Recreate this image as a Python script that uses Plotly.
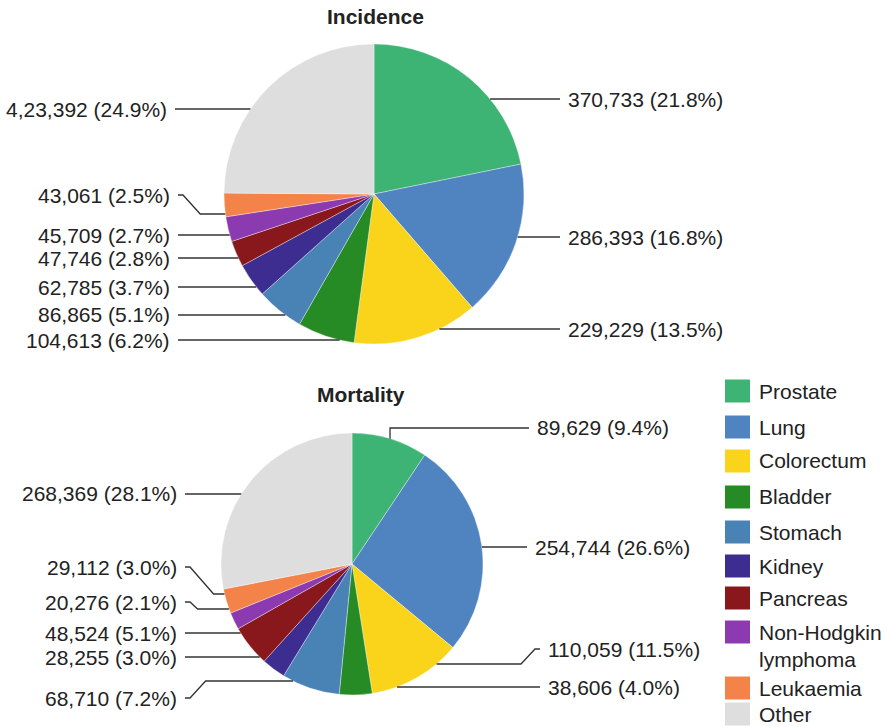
import math
import plotly.graph_objects as go

# ---- data ---------------------------------------------------------------
categories = ["Prostate", "Lung", "Colorectum", "Bladder", "Stomach", "Kidney",
              "Pancreas", "Non-Hodgkin lymphoma", "Leukaemia", "Other"]
incidence_values = [370733, 286393, 229229, 104613, 86865, 62785, 47746, 45709, 43061, 423392]
mortality_values = [89629, 254744, 110059, 38606, 68710, 28255, 48524, 20276, 29112, 268369]
# digit grouping used when printing each value ("w" = 1,234,567 ; "in" = 12,34,567)
incidence_grouping = ["w", "w", "w", "w", "w", "w", "w", "w", "w", "in"]
mortality_grouping = ["w"] * 10
colors = ["#3db474", "#4f84c1", "#f9d41a", "#268b24", "#4982b4",
          "#3d2d91", "#89181c", "#8b3ab0", "#f4834a", "#dedede"]

# ---- layout (pixels) ----------------------------------------------------
W, H = 889, 727
FONT = "Liberation Sans, Arial, Helvetica, sans-serif"
TEXT_COLOR = "#222222"
LINE_COLOR = "#333333"

charts = [
    dict(title="Incidence", title_xy=(375, 16), values=incidence_values,
         grouping=incidence_grouping, cx=374, cy=194, r=150,
         label_y=[99, 237, 329, 340, 315, 287, 258, 235, 195, 109],
         attach_y=[99, 237, 329, 340, 315, 287, 258, 235, 214, 109],
         text_x=[567, 567, 567, 171, 171, 171, 171, 171, 171, 168]),
    dict(title="Mortality", title_xy=(361, 395), values=mortality_values,
         grouping=mortality_grouping, cx=352, cy=564, r=131,
         label_y=[428, 547, 649, 687, 698, 657, 633, 602, 567, 494],
         attach_y=[None, 547, 664, 687, 681, 657, 633, 609, 594, 494],
         text_x=[536, 534, 547, 547, 178, 178, 178, 178, 178, 178]),
]

legend_y = [391, 427, 461, 497, 532, 566, 598, 646, 688, 714]
LEGEND_BOX_X = (725, 750)
LEGEND_BOX_H = 23
LEGEND_TEXT_X = 758
GAP = 7


def px(x):
    return x / W


def py(y):
    return 1 - y / H


def group_digits(v, style):
    if style == "in":
        s = str(v)
        head, tail = s[:-3], s[-3:]
        parts = []
        while len(head) > 2:
            parts.insert(0, head[-2:])
            head = head[:-2]
        if head:
            parts.insert(0, head)
        return ",".join(parts + [tail])
    return f"{v:,}"


fig = go.Figure()
shapes = []
annotations = []

for ch in charts:
    vals = ch["values"]
    total = sum(vals)
    cx, cy, r = ch["cx"], ch["cy"], ch["r"]

    fig.add_trace(go.Pie(
        values=vals, labels=categories, sort=False, direction="clockwise",
        rotation=0, textinfo="none", hoverinfo="label+value+percent",
        marker=dict(colors=colors, line=dict(color="rgba(255,255,255,0.6)", width=0.6)),
        domain=dict(x=[px(cx - r), px(cx + r)], y=[py(cy + r), py(cy - r)]),
        showlegend=False,
    ))

    annotations.append(dict(
        text=f"<b>{ch['title']}</b>", x=px(ch["title_xy"][0]), y=py(ch["title_xy"][1]),
        xref="paper", yref="paper", xanchor="center", yanchor="middle", showarrow=False,
        font=dict(family=FONT, size=21, color=TEXT_COLOR)))

    cum = 0.0
    for i, v in enumerate(vals):
        mid = (cum + v / 2) / total * 2 * math.pi
        cum += v
        right = mid < math.pi
        sgn = 1 if right else -1
        ly = ch["label_y"][i]
        ay = ch["attach_y"][i]
        tx = ch["text_x"][i]
        pct = f"{100 * v / total:.1f}%"
        label = f"{group_digits(v, ch['grouping'][i])} ({pct})"

        if ay is None:
            # vertical tick from the slice midpoint up to the label line
            x0 = cx + r * math.sin(mid)
            y0 = cy - r * math.cos(mid)
            pts = [(x0, y0), (x0, ly), (tx - GAP, ly)]
        else:
            xc = cx + sgn * math.sqrt(max(r * r - (ay - cy) ** 2, 0))
            xe = tx - sgn * GAP
            if ay == ly:
                pts = [(xc, ay), (xe, ly)]
            else:
                dy = abs(ay - ly)
                xs = xe - sgn * 5
                xb = xs - sgn * (0.8 * dy + 2)
                pts = [(xc, ay), (xb, ay), (xs, ly), (xe, ly)]
        path = "M " + " L ".join(f"{px(a):.5f},{py(b):.5f}" for a, b in pts)
        shapes.append(dict(type="path", path=path, xref="paper", yref="paper",
                           line=dict(color=LINE_COLOR, width=1.3)))

        annotations.append(dict(
            text=label, x=px(tx), y=py(ly), xref="paper", yref="paper",
            xanchor="left" if right else "right", yanchor="middle", showarrow=False,
            borderpad=0, font=dict(family=FONT, size=21, color=TEXT_COLOR)))

# legend drawn as coloured boxes with names
for name, col, ly in zip(categories, colors, legend_y):
    two_line = "<br>" in name.replace(" lymphoma", "<br>lymphoma")
    box_c = ly - 14 if two_line else ly
    shapes.append(dict(type="rect", xref="paper", yref="paper",
                       x0=px(LEGEND_BOX_X[0]), x1=px(LEGEND_BOX_X[1]),
                       y0=py(box_c + LEGEND_BOX_H / 2), y1=py(box_c - LEGEND_BOX_H / 2),
                       fillcolor=col, line=dict(width=0)))
    annotations.append(dict(
        text=name.replace(" lymphoma", "<br>lymphoma"), x=px(LEGEND_TEXT_X), y=py(ly),
        xref="paper", yref="paper", xanchor="left", yanchor="middle", align="left",
        showarrow=False, borderpad=0, font=dict(family=FONT, size=21, color=TEXT_COLOR)))

fig.update_layout(
    width=W, height=H, margin=dict(l=0, r=0, t=0, b=0),
    paper_bgcolor="white", plot_bgcolor="white",
    shapes=shapes, annotations=annotations, showlegend=False,
)

fig.write_html("out.html")
